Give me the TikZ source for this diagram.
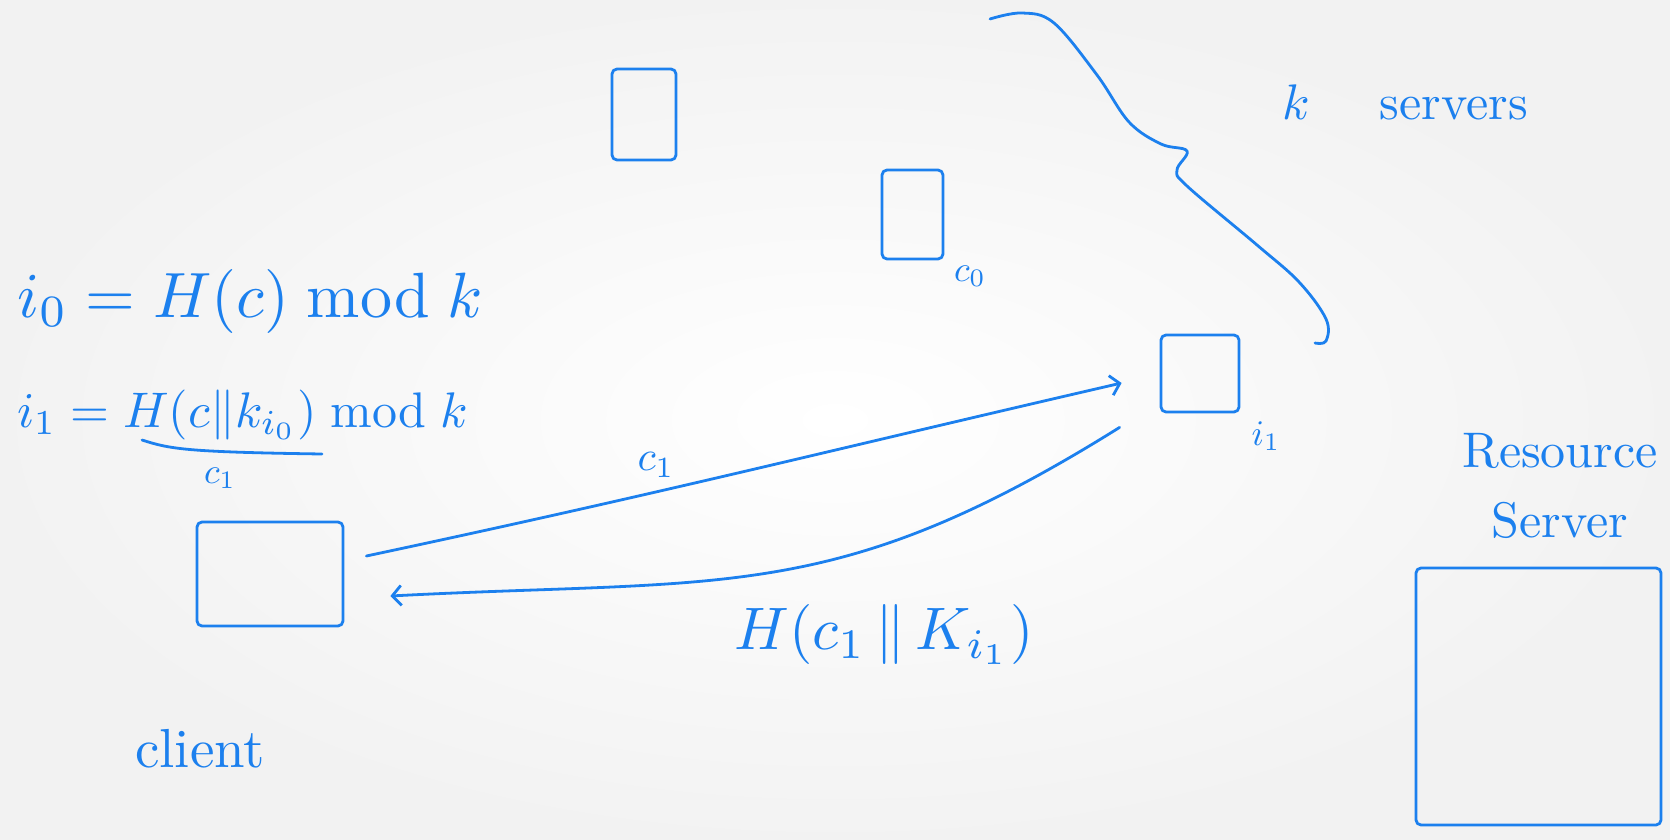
\documentclass[tikz,border=0pt]{standalone}
\usetikzlibrary{arrows.meta}
\definecolor{ink}{RGB}{28,128,238}
\begin{document}
\begin{tikzpicture}[x=1pt,y=1pt,
  inkline/.style={draw=ink,line width=2.8pt,line cap=round,line join=round},
  srv/.style={inkline,rectangle,rounded corners=5pt,inner sep=0pt},
  lbl/.style={text=ink,inner sep=0pt},
  msg/.style={inkline,-{Straight Barb[length=9pt,width=20pt]}}]
\useasboundingbox (0,0) rectangle (1670,-840);
\shade[inner color=white,outer color=black!5] (0,0) rectangle (1670,-840);

% servers
\node[srv,minimum width=64pt,minimum height=91pt] (srvA) at (644,-114.5) {};
\node[srv,minimum width=61pt,minimum height=89pt] (srvB) at (912.5,-214.5) {};
\node[srv,minimum width=78pt,minimum height=77pt] (srvC) at (1200,-373.5) {};
\node[srv,minimum width=146pt,minimum height=104pt] (client) at (270,-574) {};
\node[srv,minimum width=245pt,minimum height=257pt] (res) at (1538.5,-696.5) {};

% server labels
\node[lbl,scale=3.6] (lc0) at (970,-276) {$c_0$};
\node[lbl,scale=3.6] (li1) at (1266,-436) {$i_1$};

% brace for k servers
\draw[inkline] plot[smooth,tension=0.6] coordinates {(990,-19) (1022,-13) (1054,-23) (1097,-75) (1129,-122) (1161,-144) (1187,-151) (1177,-170) (1187,-186) (1257,-245) (1299,-282) (1326,-319) (1326,-341) (1315,-343)};
\node[lbl,anchor=base,scale=5] (lks) at (1405,-120) {$k$\hspace{14pt}servers};

% equations
\node[lbl,anchor=base west,scale=6.4] (eq1) at (16,-317) {$i_0 = H(c) \bmod k$};
\node[lbl,anchor=base west,scale=5] (eq2) at (16,-427) {$i_1 = H(c\|k_{i_0}) \bmod k$};
\coordinate (ubA) at (142,-440);
\coordinate (ubB) at (322,-454);
\draw[inkline] (ubA) .. controls (170,-449) and (185,-452) .. (ubB);
\node[lbl,scale=3.6] (lc1eq) at (220,-478) {$c_1$};

% messages
\draw[msg] ([xshift=22pt,yshift=18pt]client.east) to[out=12,in=193] ([xshift=-38pt,yshift=-9.5pt]srvC.west);
\node[lbl,scale=4.2] (lc1) at (656,-465) {$c_1$};
\draw[msg] ([xshift=-40pt,yshift=-14pt]srvC.south west) to[out=212,in=3,looseness=1.15] ([xshift=46pt,yshift=-22pt]client.east);
\node[lbl,scale=6] (lh) at (884,-634) {$H(c_1 \,\|\, K_{i_1})$};

% other labels
\node[lbl,anchor=base,scale=5.5] (lcl) at (200,-767) {client};
\node[lbl,anchor=base,align=center,scale=5] (lres) at (1560,-537) {Resource\\[2pt]Server};
\end{tikzpicture}
\end{document}
